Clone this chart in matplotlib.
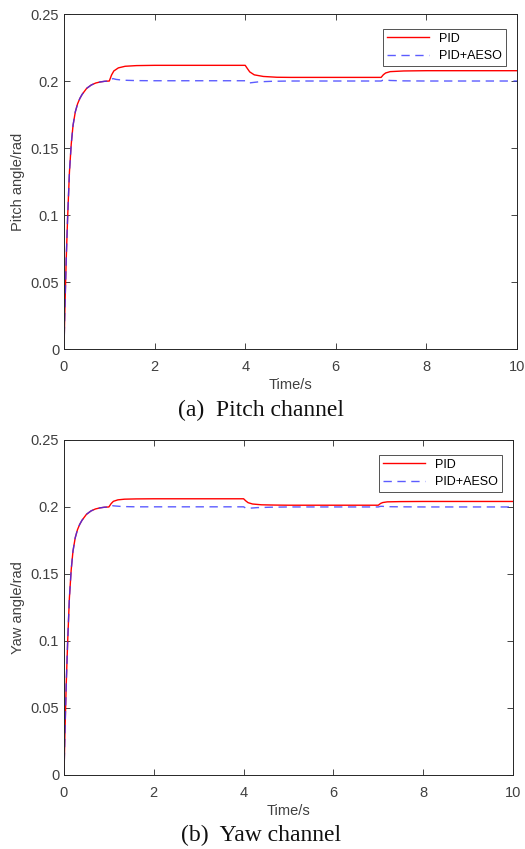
import matplotlib
matplotlib.use("Agg")
import matplotlib.pyplot as plt

# common start-up transient (both controllers track 0.2 rad)
t_rise = [0, 0.02, 0.05, 0.08, 0.12, 0.16, 0.2, 0.25, 0.3, 0.35, 0.4, 0.5, 0.6, 0.7, 0.8, 0.9, 1.0]
v_rise = [0, 0.03, 0.068, 0.098, 0.132, 0.153, 0.167, 0.177, 0.183, 0.187, 0.190, 0.1945, 0.197, 0.1985, 0.1993, 0.1998, 0.2]

# pitch channel after disturbances at t = 1, 4, 7 s
t_pid = [1.05, 1.1, 1.2, 1.35, 1.6, 2.0, 4.0, 4.05, 4.1, 4.2, 4.4, 4.7, 5.0, 7.0, 7.05, 7.1, 7.2, 7.5, 8.0, 10.0]
pitch_pid = [0.2045, 0.2075, 0.2098, 0.2110, 0.2115, 0.2117, 0.2117, 0.2092, 0.2068, 0.2046, 0.2034, 0.2028, 0.2027, 0.2027,
             0.2047, 0.2060, 0.2070, 0.2075, 0.2077, 0.2077]
t_aeso = [1.04, 1.08, 1.15, 1.3, 1.6, 2.0, 4.0, 4.04, 4.08, 4.15, 4.3, 4.6, 5.0, 7.0, 7.04, 7.08, 7.2, 7.5, 8.0, 10.0]
pitch_aeso = [0.2012, 0.2018, 0.2012, 0.2006, 0.2003, 0.2002, 0.2002, 0.1990, 0.1985, 0.1988, 0.1994, 0.1998, 0.2, 0.2,
              0.2006, 0.2008, 0.2004, 0.2001, 0.2, 0.2]

# yaw channel
yaw_pid = [0.2025, 0.2042, 0.2053, 0.2058, 0.2060, 0.2061, 0.2061, 0.2045, 0.2032, 0.2022, 0.2016, 0.2014, 0.2013, 0.2013,
           0.2026, 0.2033, 0.2038, 0.2040, 0.2041, 0.2041]
yaw_aeso = [0.2006, 0.2009, 0.2007, 0.2003, 0.2001, 0.2001, 0.2001, 0.1993, 0.1989, 0.1991, 0.1995, 0.1998, 0.2, 0.2,
            0.2004, 0.2005, 0.2002, 0.2001, 0.2, 0.2]

yticks = [0, 0.05, 0.1, 0.15, 0.2, 0.25]
yticklabels = ["0", "0.05", "0.1", "0.15", "0.2", "0.25"]
xticks = [0, 2, 4, 6, 8, 10]

gray = "#262626"
plt.rcParams["font.family"] = ["Liberation Sans", "DejaVu Sans"]

fig = plt.figure(figsize=(5.25, 8.49), dpi=100)
ax1 = fig.add_axes([0.1219, 0.5889, 0.8629, 0.3946])
ax2 = fig.add_axes([0.1219, 0.0872, 0.8552, 0.3946])

panels = [
    (ax1, pitch_pid, pitch_aeso, "Pitch angle/rad", "(a)  Pitch channel", 0.5045),
    (ax2, yaw_pid, yaw_aeso, "Yaw angle/rad", "(b)  Yaw channel", 0.0035),
]

for ax, pid, aeso, ylab, caption, ycap in panels:
    ax.plot(t_rise + t_pid, v_rise + pid, color="#ff0000", lw=1.0, label="PID")
    ax.plot(t_rise + t_aeso, v_rise + aeso, color="#3333ff", lw=1.0, ls=(0, (6, 4)), alpha=0.8, label="PID+AESO")
    ax.set_xlim(0, 10)
    ax.set_ylim(0, 0.25)
    ax.set_xticks(xticks)
    ax.set_yticks(yticks)
    ax.set_yticklabels(yticklabels)
    ax.tick_params(direction="in", length=4, width=0.6, colors=gray, labelcolor="#404040", labelsize=10.5,
                   top=True, right=True, labeltop=False, labelright=False)
    ax.tick_params(axis="x", pad=8)
    for s in ax.spines.values():
        s.set_color(gray)
        s.set_linewidth(0.7)
    ax.set_xlabel("Time/s", fontsize=10.5, color="#404040", labelpad=3)
    ax.set_ylabel(ylab, fontsize=10.5, color="#404040", labelpad=4)
    leg = ax.legend(loc="upper right", bbox_to_anchor=(0.975, 0.955), fontsize=9, frameon=True, fancybox=False,
                    handlelength=3.4, borderpad=0.3, labelspacing=0.45, borderaxespad=0)
    leg.get_frame().set_edgecolor(gray)
    leg.get_frame().set_linewidth(0.7)
    fig.text(0.497, ycap, caption, ha="center", va="bottom", fontsize=17,
             family=["Liberation Serif", "DejaVu Serif"], color="#111111")

fig.savefig("out.png", dpi=100)
